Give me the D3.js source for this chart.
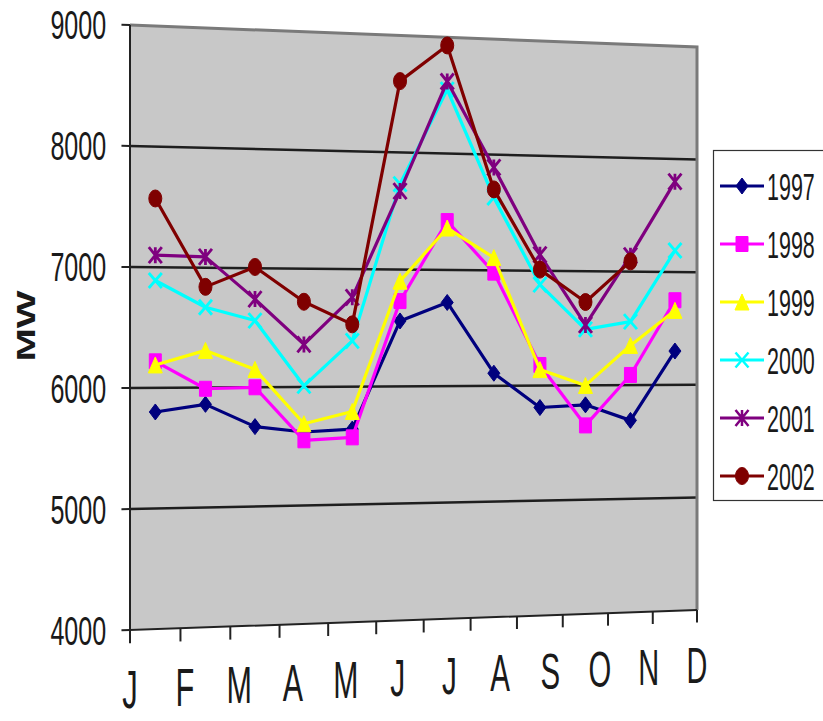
<!DOCTYPE html>
<html>
<head>
<meta charset="utf-8">
<script src="https://cdn.jsdelivr.net/npm/d3@7"></script>
<style>
  body { margin: 0; background: #fff; }
  svg { display: block; }
  text { font-family: "Liberation Sans", Arial, sans-serif; fill: #1a1a1a; }
</style>
</head>
<body>
<script>
// data (MW per month)
var months = ["J", "F", "M", "A", "M", "J", "J", "A", "S", "O", "N", "D"];
var years = ["1997", "1998", "1999", "2000", "2001", "2002"];
var mw1997 = [5800, 5860, 5670, 5620, 5640, 6560, 6720, 6110, 5810, 5830, 5690, 6300];
var mw1998 = [6220, 5990, 6000, 5550, 5570, 6730, 7420, 6980, 6180, 5650, 6090, 6750];
var mw1999 = [6190, 6310, 6150, 5690, 5790, 6900, 7360, 7110, 6140, 6000, 6350, 6660];
var mw2000 = [6890, 6670, 6560, 6010, 6390, 7730, 8550, 7630, 6880, 6490, 6560, 7190];
var mw2001 = [7100, 7090, 6740, 6360, 6760, 7670, 8620, 7890, 7140, 6530, 7140, 7800];
var mw2002 = [7570, 6840, 7010, 6720, 6530, 8610, 8930, 7700, 7010, 6730, 7090, null];
var yTicks = [4000, 5000, 6000, 7000, 8000, 9000];

var colors = ["#00007e", "#ff00ff", "#ffff00", "#00ffff", "#7f007f", "#7f0000"];
var markers = ["diamond", "square", "triangle", "x", "asterisk", "circle"];

var series = years.map(function(yr, i) {
  return {name: yr, values: [mw1997, mw1998, mw1999, mw2000, mw2001, mw2002][i],
          color: colors[i], marker: markers[i]};
});

var width = 823, height = 721;

var svg = d3.select("body").append("svg")
    .attr("width", width)
    .attr("height", height);

// the source picture is photographed at an angle: map the flat unit plot
// onto the slanted quadrilateral (top-left, top-right, bottom-right, bottom-left)
function quadMap(q) {
  var x0 = q[0][0], y0 = q[0][1], x1 = q[1][0], y1 = q[1][1],
      x2 = q[2][0], y2 = q[2][1], x3 = q[3][0], y3 = q[3][1];
  var dx1 = x1 - x2, dx2 = x3 - x2, dx3 = x0 - x1 + x2 - x3,
      dy1 = y1 - y2, dy2 = y3 - y2, dy3 = y0 - y1 + y2 - y3;
  var den = dx1 * dy2 - dx2 * dy1;
  var g = (dx3 * dy2 - dx2 * dy3) / den,
      h = (dx1 * dy3 - dx3 * dy1) / den;
  var a = x1 - x0 + g * x1, b = x3 - x0 + h * x3, c = x0,
      d = y1 - y0 + g * y1, e = y3 - y0 + h * y3, f = y0;
  return function(u, v) {
    var w = g * u + h * v + 1;
    return [(a * u + b * v + c) / w, (d * u + e * v + f) / w, 1 / w];
  };
}
var proj = quadMap([[130, 25], [697, 47], [697, 610], [130, 630]]);

var x = d3.scaleBand().domain(d3.range(months.length)).range([0, 1]);
var xl = d3.scalePoint().domain(d3.range(months.length)).range([0, 1]);
var y = d3.scaleLinear().domain([4000, 9000]).range([1, 0]);

function xy(u, v) { var p = proj(u, v); return [p[0], p[1]]; }
var line = d3.line();

// plot background
svg.append("path")
    .attr("d", line([xy(0, 0), xy(1, 0), xy(1, 1), xy(0, 1)]) + "Z")
    .attr("fill", "#c8c8c8");

// grid lines
svg.append("g").selectAll("path")
    .data(yTicks.filter(function(t) { return t > 4000 && t < 9000; }))
  .enter().append("path")
    .attr("d", function(t) { return line([xy(0, y(t)), xy(1, y(t))]); })
    .attr("stroke", "#1e1e1e")
    .attr("stroke-width", 2.5)
    .attr("fill", "none");

// top and right frame
svg.append("path")
    .attr("d", line([xy(0, 0), xy(1, 0), xy(1, 1)]))
    .attr("stroke", "#7a7a7a")
    .attr("stroke-width", 3)
    .attr("fill", "none");

// axes
svg.append("path")
    .attr("d", line([xy(0, 0), xy(0, 1), xy(1, 1)]))
    .attr("stroke", "#222")
    .attr("stroke-width", 2)
    .attr("fill", "none");

svg.append("g").selectAll("path")
    .data(yTicks)
  .enter().append("path")
    .attr("d", function(t) { return line([xy(-0.014, y(t)), xy(0, y(t))]); })
    .attr("stroke", "#222")
    .attr("stroke-width", 2);

svg.append("g").selectAll("path")
    .data(d3.range(months.length + 1))
  .enter().append("path")
    .attr("d", function(i) {
      var u = i / months.length;
      return line([xy(u, 1), xy(u, 1.022)]);
    })
    .attr("stroke", "#222")
    .attr("stroke-width", 2);

// y tick labels
svg.append("g").selectAll("text")
    .data(yTicks)
  .enter().append("text")
    .attr("transform", function(t) {
      var p = proj(-0.039, y(t));
      return "translate(" + p[0] + "," + p[1] + ") scale(" + p[2] + "," + (p[2] * 1.6) + ")";
    })
    .attr("dy", "0.36em")
    .attr("text-anchor", "end")
    .style("font-size", "25px")
    .text(function(t) { return t; });

// month labels
svg.append("g").selectAll("text")
    .data(d3.range(months.length))
  .enter().append("text")
    .attr("transform", function(i) {
      var p = proj(xl(i), 1.129);
      return "translate(" + p[0] + "," + p[1] + ") scale(" + p[2] + "," + (p[2] * 1.72) + ")";
    })
    .attr("text-anchor", "middle")
    .style("font-size", "31px")
    .text(function(i) { return months[i]; });

// axis title
svg.append("text")
    .attr("transform", "translate(26,326) rotate(-90) scale(1.6,1)")
    .attr("dy", "0.36em")
    .attr("text-anchor", "middle")
    .style("font-size", "25px")
    .style("font-weight", "bold")
    .text("MW");

function markerPath(type, w, h) {
  switch (type) {
    case "diamond": return "M0," + (-h) + "L" + w + ",0L0," + h + "L" + (-w) + ",0Z";
    case "square": return "M" + (-w) + "," + (-h) + "H" + w + "V" + h + "H" + (-w) + "Z";
    case "triangle": return "M0," + (-h) + "L" + w + "," + h + "L" + (-w) + "," + h + "Z";
    case "x": return "M" + (-w) + "," + (-h) + "L" + w + "," + h + "M" + w + "," + (-h) + "L" + (-w) + "," + h;
    case "asterisk": return "M" + (-w) + "," + (-h) + "L" + w + "," + h + "M" + w + "," + (-h) + "L" + (-w) + "," + h +
                            "M0," + (-h) + "L0," + h;
    default: return "M" + (-w) + ",0A" + w + "," + h + " 0 1,0 " + w + ",0A" + w + "," + h + " 0 1,0 " + (-w) + ",0Z";
  }
}
var markerSize = {diamond: [6, 8], square: [6, 7.5], triangle: [7, 8], x: [6.5, 7.5], asterisk: [6.5, 8], circle: [6.5, 8.5]};
var stroked = {x: true, asterisk: true};

// series
var sg = svg.append("g").selectAll("g")
    .data(series)
  .enter().append("g");

sg.append("path")
    .attr("d", function(s) {
      var pts = s.values.map(function(v, i) {
        return v == null ? null : xy(x(i) + x.bandwidth() / 2, y(v));
      }).filter(function(p) { return p != null; });
      return line(pts);
    })
    .attr("fill", "none")
    .attr("stroke", function(s) { return s.color; })
    .attr("stroke-width", 3.2)
    .attr("stroke-linejoin", "round");

sg.each(function(s) {
  var g = d3.select(this);
  var ms = markerSize[s.marker];
  g.selectAll(".m")
      .data(s.values.map(function(v, i) { return {v: v, i: i}; }).filter(function(d) { return d.v != null; }))
    .enter().append("path")
      .attr("class", "m")
      .attr("transform", function(d) {
        var p = xy(x(d.i) + x.bandwidth() / 2, y(d.v));
        return "translate(" + p[0] + "," + p[1] + ")";
      })
      .attr("d", markerPath(s.marker, ms[0], ms[1]))
      .attr("fill", stroked[s.marker] ? "none" : s.color)
      .attr("stroke", s.color)
      .attr("stroke-width", stroked[s.marker] ? 2.8 : 1);
});

// legend
var legend = svg.append("g");
legend.append("rect")
    .attr("x", 713.5).attr("y", 150.5)
    .attr("width", 120).attr("height", 350)
    .attr("fill", "#fff")
    .attr("stroke", "#333")
    .attr("stroke-width", 1.2);

var li = legend.selectAll(".item")
    .data(series)
  .enter().append("g")
    .attr("class", "item")
    .attr("transform", function(s, i) { return "translate(0," + (186 + i * 58) + ")"; });

li.append("line")
    .attr("x1", 720).attr("x2", 764)
    .attr("stroke", function(s) { return s.color; })
    .attr("stroke-width", 3);

li.append("path")
    .attr("transform", "translate(742,0)")
    .attr("d", function(s) { var ms = markerSize[s.marker]; return markerPath(s.marker, ms[0], ms[1]); })
    .attr("fill", function(s) { return stroked[s.marker] ? "none" : s.color; })
    .attr("stroke", function(s) { return s.color; })
    .attr("stroke-width", function(s) { return stroked[s.marker] ? 2.5 : 1; });

li.append("text")
    .attr("transform", "translate(767,0) scale(1,1.75)")
    .attr("dy", "0.36em")
    .style("font-size", "21.5px")
    .text(function(s) { return s.name; });
</script>
</body>
</html>
